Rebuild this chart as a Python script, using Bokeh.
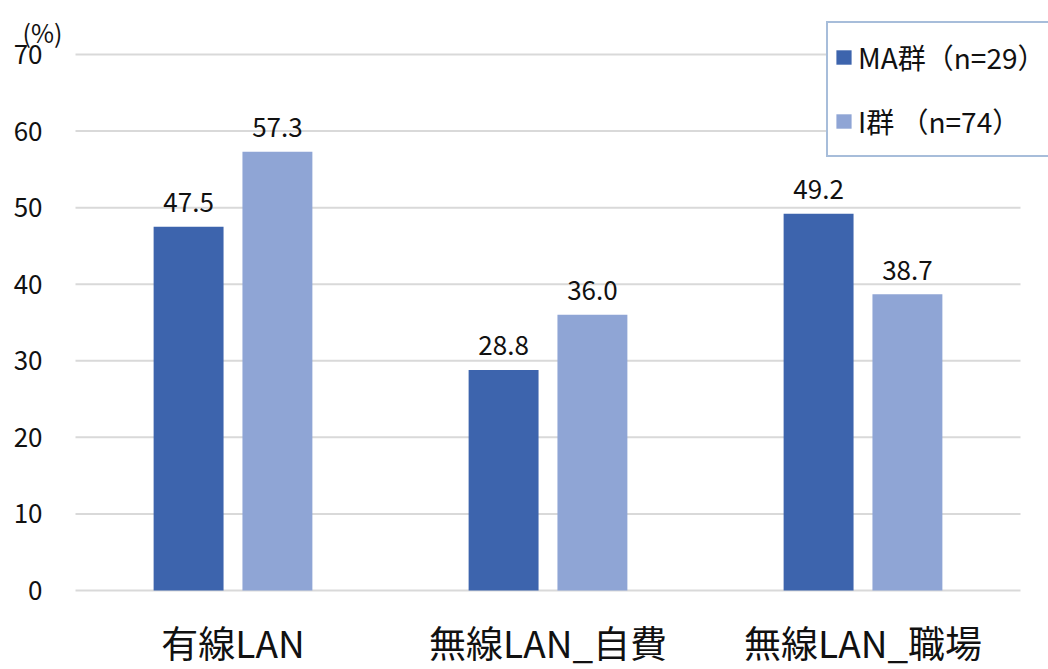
import numpy as np
from bokeh.plotting import figure
from bokeh.models import ColumnDataSource, Range1d, Label, Legend, LegendItem
from bokeh.core.properties import value
from bokeh.embed import file_html
from bokeh.resources import INLINE

categories = ["有線LAN", "無線LAN_自費", "無線LAN_職場"]
ma_values = [47.5, 28.8, 49.2]
i_values = [57.3, 36.0, 38.7]
series_names = ["MA群（n=29）", "I群 （n=74）"]
y_ticks = [0, 10, 20, 30, 40, 50, 60, 70]
y_unit_label = "(%)"

ma_color = "#3d64ad"
i_color = "#8fa5d5"
jp_font = "Noto Sans CJK JP"
text_color = "#111111"

W, H = 1048, 669
# pixel layout of the plotting area (category width & value scale)
left_px, zero_px, top70_px = 75, 590, 54
cat_px = 315.0
val_px = (zero_px - top70_px) / 70.0

x_start = -left_px / cat_px
x_end = (W - left_px) / cat_px
y_start = -(H - zero_px) / val_px
y_end = zero_px / val_px

def px_to_x(px):
    return (px - left_px) / cat_px

def px_to_y(py):
    return (zero_px - py) / val_px

n = len(categories)
centers = np.arange(n) + 0.5
off = 0.141
bw = 0.222

src = ColumnDataSource(dict(
    xc=centers,
    xm=centers - off,
    xi=centers + off,
    cat=categories,
    ma=ma_values,
    i=i_values,
    ma_lbl=[f"{v:.1f}" for v in ma_values],
    i_lbl=[f"{v:.1f}" for v in i_values],
))

p = figure(width=W, height=H, output_backend="svg", toolbar_location=None,
           x_range=Range1d(x_start, x_end), y_range=Range1d(y_start, y_end),
           min_border=0)
p.axis.visible = False
p.grid.visible = False
p.outline_line_color = None
p.background_fill_color = "white"
p.border_fill_color = "white"

# gridlines at the tick values
p.segment(x0=[0] * len(y_ticks), x1=[n] * len(y_ticks), y0=y_ticks, y1=y_ticks,
          line_color="#d9d9d9", line_width=2)

r1 = p.vbar(x="xm", top="ma", width=bw, source=src, fill_color=ma_color, line_color=None)
r2 = p.vbar(x="xi", top="i", width=bw, source=src, fill_color=i_color, line_color=None)

common = dict(text_align="center", text_baseline="middle", y_offset=-24,
              text_font_size="26px", text_color=text_color, text_font=value(jp_font))
p.text(x="xm", y="ma", text="ma_lbl", source=src, **common)
p.text(x="xi", y="i", text="i_lbl", source=src, **common)

# y tick labels
p.text(x=[px_to_x(42)] * len(y_ticks), y=y_ticks, text=[str(t) for t in y_ticks],
       text_align="right", text_baseline="middle", y_offset=0,
       text_font_size="26px", text_color=text_color, text_font=value(jp_font))

# category labels
p.text(x="xc", y=px_to_y(641), text="cat", source=src,
       text_align="center", text_baseline="middle",
       text_font_size="37px", text_color=text_color, text_font=value(jp_font))

p.add_layout(Label(x=px_to_x(22), y=px_to_y(31), text=y_unit_label, text_font_size="25px",
                   text_font=jp_font, text_color=text_color,
                   text_baseline="middle", text_align="left"))

legend = Legend(items=[LegendItem(label=series_names[0], renderers=[r1]),
                       LegendItem(label=series_names[1], renderers=[r2])],
                location=(826, H - 157), orientation="vertical",
                border_line_color="#4f7bb5", border_line_width=2,
                background_fill_color="white", background_fill_alpha=1,
                label_text_font=jp_font, label_text_font_size="28px", label_text_color=text_color,
                glyph_width=19, glyph_height=18, label_height=56, label_width=187,
                spacing=8, padding=6, label_standoff=5, margin=0)
p.add_layout(legend, "center")

open("out.html", "w").write(file_html(p, INLINE))
